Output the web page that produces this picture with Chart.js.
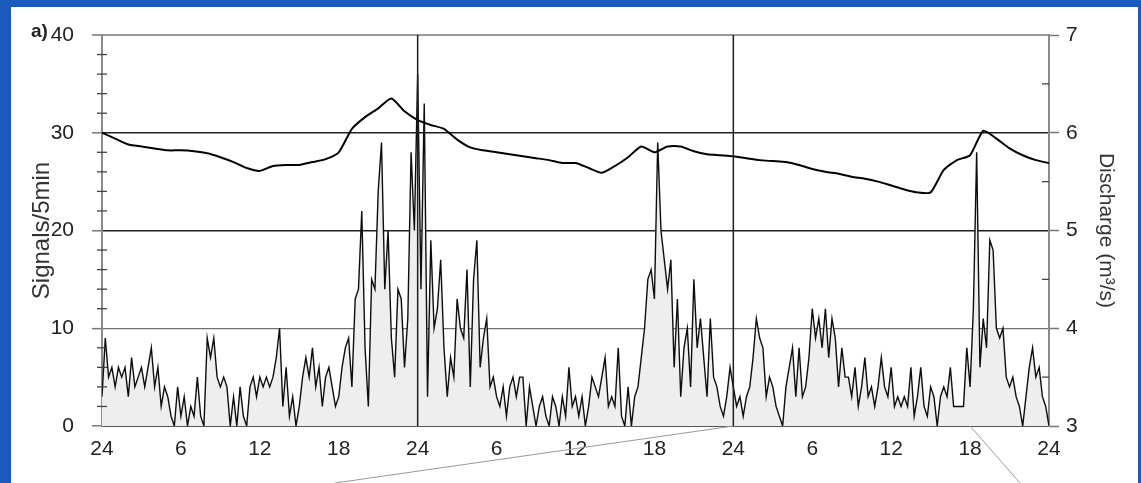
<!DOCTYPE html>
<html>
<head>
<meta charset="utf-8">
<script src="https://cdn.jsdelivr.net/npm/chart.js@4.4.1/dist/chart.umd.min.js"></script>
<style>
  html, body { margin: 0; padding: 0; width: 1141px; height: 483px; overflow: hidden; background: #1b5bbd; }
  #panel { position: absolute; left: 11px; top: 7px; width: 1127px; height: 476px; background: #ffffff; }
  #c { position: absolute; left: 0; top: 0; }
</style>
</head>
<body>
<div id="panel"></div>
<canvas id="c" width="1141" height="483"></canvas>
<script>
// Hour-of-day labels repeated every 6 h along the three-day time axis
const hourLabels = ['24', '6', '12', '18'];
const dayBoundaries = [24, 48];

// Signals per 5 min, sampled every 15 min (96 samples per day)
const signalsDay1 = [
  3, 9, 5, 6, 4, 6, 5, 6, 3, 7,
  4, 5, 6, 4, 6, 8, 4, 6, 2, 4,
  3, 1, 0, 4, 1, 3, 0, 2, 1, 5,
  1, 0, 9, 7, 9, 5, 4, 5, 4, 0,
  3, 0, 4, 1, 0, 4, 5, 3, 5, 4,
  5, 4, 5, 7, 10, 2, 6, 1, 3, 0,
  2, 5, 7, 5, 8, 4, 6, 2, 5, 6,
  4, 2, 3, 6, 8, 9, 4, 13, 14, 22,
  8, 2, 15, 14, 24, 29, 14, 20, 9, 5,
  14, 13, 6, 11, 28, 20
];
const signalsDay2 = [
  36, 14, 33, 3, 19, 10, 12, 17, 8, 3,
  7, 5, 13, 10, 9, 16, 4, 15, 19, 6,
  9, 11, 4, 5, 3, 2, 4, 1, 4, 5,
  3, 5, 5, 0, 4, 2, 0, 2, 3, 1,
  0, 3, 2, 0, 3, 1, 6, 2, 3, 1,
  3, 0, 2, 5, 4, 3, 5, 7, 2, 3,
  2, 8, 1, 0, 4, 0, 3, 4, 7, 10,
  15, 16, 13, 29, 20, 17, 14, 17, 6, 13,
  3, 8, 10, 4, 15, 8, 11, 7, 3, 11,
  5, 4, 2, 1, 3, 6
];
// last day includes the closing sample at 24 h
const signalsDay3 = [
  4, 2, 3, 1, 3, 4, 7, 11, 9, 8,
  3, 5, 4, 2, 1, 0, 4, 6, 8, 3,
  8, 3, 4, 7, 12, 9, 11, 8, 12, 7,
  11, 9, 4, 8, 5, 5, 3, 6, 2, 4,
  7, 3, 4, 2, 4, 7, 4, 3, 6, 2,
  3, 2, 3, 2, 6, 1, 3, 6, 2, 1,
  4, 3, 0, 3, 4, 3, 6, 2, 2, 2,
  2, 8, 4, 12, 28, 6, 11, 8, 19, 18,
  10, 9, 10, 5, 4, 5, 3, 2, 0, 3,
  6, 8, 5, 6, 3, 2, 0
];

// Discharge (m³/s), hourly from 0 h to 72 h
const dischargeHourly = [
  6.00, 5.94, 5.88, 5.86, 5.84, 5.82, 5.82, 5.81, 5.79, 5.75,
  5.70, 5.64, 5.61, 5.66, 5.67, 5.67, 5.70, 5.73, 5.80, 6.04,
  6.16, 6.25, 6.35, 6.22, 6.13, 6.08, 6.04, 5.93, 5.85, 5.82,
  5.80, 5.78, 5.76, 5.74, 5.72, 5.69, 5.69, 5.64, 5.59, 5.66,
  5.75, 5.86, 5.80, 5.86, 5.86, 5.81, 5.78, 5.77, 5.76, 5.74,
  5.72, 5.71, 5.70, 5.67, 5.63, 5.60, 5.58, 5.55, 5.53, 5.50,
  5.46, 5.42, 5.39, 5.39, 5.62, 5.72, 5.77, 6.02, 5.94, 5.84,
  5.77, 5.72, 5.69
];

const SAMPLE_HOURS = 0.25;
const signalPoints = signalsDay1.concat(signalsDay2, signalsDay3)
  .map((v, i) => ({ x: i * SAMPLE_HOURS, y: v }));
const dischargePoints = dischargeHourly.map((q, h) => ({ x: h, y: q }));

const FONT = "'Liberation Sans', Arial, sans-serif";

// fixed axis box sizes so the plot frame sits where the panel needs it
const LEFT_AXIS_W = 102, RIGHT_AXIS_W = 92, BOTTOM_AXIS_H = 57;

const decorations = {
  id: 'decorations',
  afterDatasetsDraw(chart) {
    const { ctx, chartArea: a, scales: { x } } = chart;
    ctx.save();
    ctx.strokeStyle = '#1e1e1e';
    ctx.lineWidth = 1.5;
    dayBoundaries.forEach(h => {
      const px = x.getPixelForValue(h);
      ctx.beginPath();
      ctx.moveTo(px, a.top);
      ctx.lineTo(px, a.bottom);
      ctx.stroke();
    });
    ctx.restore();
  },
  afterDraw(chart) {
    const { ctx, chartArea: a, scales: { x, y, y2 } } = chart;
    ctx.save();
    // minor ticks crossing the left axis
    ctx.strokeStyle = '#444';
    ctx.lineWidth = 1.3;
    for (let v = 2; v < 40; v += 2) {
      if (v % 10 === 0) continue;
      const py = y.getPixelForValue(v);
      ctx.beginPath();
      ctx.moveTo(a.left - 5, py);
      ctx.lineTo(a.left + 5, py);
      ctx.stroke();
    }
    // minor ticks inside the right axis
    for (let q = 3.5; q < 7; q += 1) {
      const py = y2.getPixelForValue(q);
      ctx.beginPath();
      ctx.moveTo(a.right - 7, py);
      ctx.lineTo(a.right, py);
      ctx.stroke();
    }
    // panel letters
    ctx.fillStyle = '#222';
    ctx.font = 'bold 19px ' + FONT;
    ctx.textBaseline = 'alphabetic';
    ctx.textAlign = 'left';
    ctx.fillText('a)', 31, 37);
    ctx.fillText('b)', 31, 497);
    // guide lines leading to the zoomed panel below
    ctx.strokeStyle = '#9a9a9a';
    ctx.lineWidth = 1;
    ctx.beginPath();
    ctx.moveTo(x.getPixelForValue(48), a.bottom);
    ctx.lineTo(335, 483);
    ctx.moveTo(x.getPixelForValue(66), a.bottom);
    ctx.lineTo(1020, 483);
    ctx.stroke();
    ctx.restore();
  }
};

function leftGridColor(c) {
  const v = c.tick && c.tick.value;
  if (v === 40) return '#9a9a9a';
  if (v === 30 || v === 20 || v === 0) return '#202020';
  if (v === 10) return '#707070';
  return 'rgba(0,0,0,0)';
}
function leftGridWidth(c) {
  const v = c.tick && c.tick.value;
  if (v === 40) return 2;
  if (v === 10) return 1.3;
  return 1.6;
}

new Chart(document.getElementById('c'), {
  type: 'line',
  data: {
    datasets: [
      {
        label: 'Discharge',
        data: dischargePoints,
        yAxisID: 'y2',
        borderColor: '#000',
        borderWidth: 2,
        pointRadius: 0,
        fill: false,
        tension: 0.2
      },
      {
        label: 'Signals',
        data: signalPoints,
        yAxisID: 'y',
        borderColor: '#0d0d0d',
        borderWidth: 1.4,
        backgroundColor: '#eeeeee',
        pointRadius: 0,
        fill: 'origin',
        tension: 0
      }
    ]
  },
  options: {
    responsive: false,
    animation: false,
    events: [],
    layout: { padding: { top: 35, bottom: 0, left: 0, right: 0 } },
    plugins: { legend: { display: false }, tooltip: { enabled: false } },
    scales: {
      x: {
        type: 'linear',
        position: 'bottom',
        min: 0,
        max: 72,
        afterFit(s) { s.height = BOTTOM_AXIS_H; },
        grid: { display: false },
        border: { display: true, color: '#202020', width: 1.6 },
        ticks: {
          stepSize: 6,
          autoSkip: false,
          maxRotation: 0,
          padding: 3,
          color: '#222',
          font: { family: FONT, size: 21 },
          callback: v => hourLabels[(Math.round(v / 6)) % 4]
        }
      },
      y: {
        position: 'left',
        min: 0,
        max: 40,
        afterFit(s) { s.width = LEFT_AXIS_W; },
        grid: {
          color: leftGridColor,
          lineWidth: leftGridWidth,
          tickLength: 10,
          tickColor: c => (c.tick && c.tick.value % 10 === 0) ? '#777' : 'rgba(0,0,0,0)',
          tickWidth: 1.5
        },
        border: { display: true, color: '#8a8a8a', width: 2 },
        ticks: {
          stepSize: 2,
          autoSkip: false,
          padding: 18,
          color: '#222',
          font: { family: FONT, size: 21 },
          callback: v => (v % 10 === 0 ? String(v) : '')
        },
        title: {
          display: true,
          text: 'Signals/5min',
          color: '#333',
          font: { family: FONT, size: 24 },
          padding: { top: 28, bottom: 0 }
        }
      },
      y2: {
        position: 'right',
        min: 3,
        max: 7,
        afterFit(s) { s.width = RIGHT_AXIS_W; },
        grid: {
          drawOnChartArea: false,
          tickLength: 10,
          tickColor: c => (c.tick && Number.isInteger(c.tick.value)) ? '#777' : 'rgba(0,0,0,0)',
          tickWidth: 1.5
        },
        border: { display: true, color: '#8a8a8a', width: 2 },
        ticks: {
          stepSize: 0.5,
          autoSkip: false,
          padding: 7,
          color: '#222',
          font: { family: FONT, size: 21 },
          callback: v => (Number.isInteger(v) ? String(v) : '')
        },
        title: {
          display: true,
          text: 'Discharge (m³/s)',
          color: '#333',
          font: { family: FONT, size: 21 },
          padding: { top: 23, bottom: 0 }
        }
      }
    }
  },
  plugins: [decorations]
});
</script>
</body>
</html>
